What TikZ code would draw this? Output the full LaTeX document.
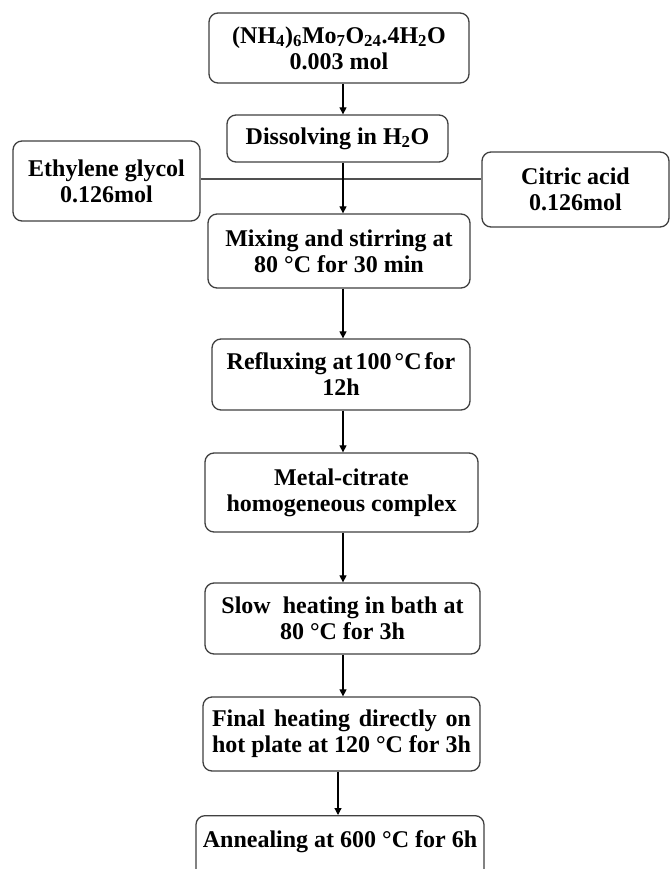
\documentclass[tikz,border=0pt]{standalone}
\usepackage{fontspec}
\setmainfont{Liberation Serif}
\usetikzlibrary{arrows.meta}
\definecolor{boxgray}{HTML}{404040}
\definecolor{linegray}{HTML}{505050}
\begin{document}
\begin{tikzpicture}[x=1pt,y=-1pt,
  box/.style={draw=boxgray, line width=1.3pt, rounded corners=9pt, inner sep=0pt,
    align=center, text=black, font=\fontsize{24}{26}\selectfont\bfseries},
  flow/.style={draw=black, line width=1.2pt, -{Triangle[length=7pt,width=7pt]}},
  link/.style={draw=linegray, line width=1.6pt}]
\useasboundingbox (0,0) rectangle (671,869);
\clip (0,0) rectangle (671,869);
\fill[white] (0,0) rectangle (671,869);

\node[box, minimum width=260pt, minimum height=70pt] (top) at (339,48)
  {(NH\textsubscript{4})\textsubscript{6}Mo\textsubscript{7}O\textsubscript{24}.4H\textsubscript{2}O\\0.003 mol};
\node[box, minimum width=221pt, minimum height=47pt] (dis) at (337.5,138.5)
  {Dissolving in H\textsubscript{2}O};
\node[box, minimum width=187pt, minimum height=80pt] (eth) at (106.5,181)
  {Ethylene glycol\\0.126mol};
\node[box, minimum width=187pt, minimum height=75pt] (cit) at (575.5,189.5)
  {Citric acid\\0.126mol};
\node[box, minimum width=262pt, minimum height=74pt] (mix) at (339,251)
  {Mixing and stirring at\\80 °C for 30 min};
\node[box, minimum width=258pt, minimum height=71pt] (ref) at (341,374.5)
  {Refluxing at\hspace{3pt}100\hspace{3pt}°C\hspace{3pt}for\\12h};
\node[box, minimum width=273pt, minimum height=79pt] (met) at (341.5,492.5)
  {Metal-citrate\\homogeneous complex};
\node[box, minimum width=275pt, minimum height=71pt] (slow) at (342.5,618.5)
  {Slow\ \ heating in bath at\\80 °C for 3h};
\node[box, minimum width=277pt, minimum height=74pt] (fin) at (341.5,734)
  {\makebox[259pt][s]{Final heating directly on}\\hot plate at 120 °C for 3h};
\node[box, minimum width=288pt, minimum height=80pt, anchor=north] (ann) at (340,815)
  {Annealing at 600 °C for 6h\\\strut};

\coordinate (ax) at (343,0);
\coordinate (bx) at (338,0);
\coordinate (hl) at (0,179);

\draw[link] (eth.east |- hl) -- (cit.west |- hl);
\draw[flow] (top.south -| ax) -- (dis.north -| ax);
\draw[flow] (dis.south -| ax) -- (mix.north -| ax);
\draw[flow] (mix.south -| ax) -- (ref.north -| ax);
\draw[flow] (ref.south -| ax) -- (met.north -| ax);
\draw[flow] (met.south -| ax) -- (slow.north -| ax);
\draw[flow] (slow.south -| ax) -- (fin.north -| ax);
\draw[flow] (fin.south -| bx) -- (ann.north -| bx);
\end{tikzpicture}
\end{document}
